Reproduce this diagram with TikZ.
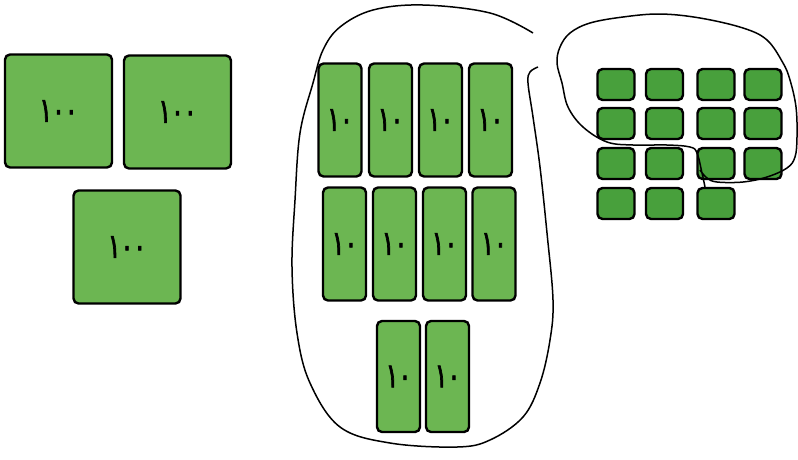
\documentclass[tikz,border=0pt]{standalone}
\usepackage{fontspec}
\newfontfamily\arabicfont[Script=Arabic,FakeStretch=0.7,FakeBold=2]{DejaVu Sans}
\definecolor{blockgreen}{RGB}{108,182,82}
\definecolor{unitgreen}{RGB}{72,160,60}
\tikzset{
  block/.style={draw=black, line width=2.4pt, rounded corners=5pt, fill=blockgreen, inner sep=0pt, font=\arabicfont\fontsize{34}{34}\selectfont},
  hund/.style={block, minimum width=107pt, minimum height=113pt},
  rod/.style={block, minimum width=43pt, minimum height=113pt},
  unit/.style={draw=black, line width=2.4pt, rounded corners=5pt, fill=unitgreen, inner sep=0pt, minimum width=37pt, minimum height=31pt},
  loop/.style={draw=black, line width=1.5pt}
}
\begin{document}
\begin{tikzpicture}[x=1pt,y=-1pt]
\useasboundingbox[fill=white] (0,0) rectangle (798,459);
% hundreds
\node[hund] (h1) at (58.5,111) {١٠٠};
\node[hund] (h2) at (177.5,112) {١٠٠};
\node[hund] (h3) at (127,247) {١٠٠};
% tens
\node[rod] (t1) at (340,120) {١٠};
\node[rod] (t2) at (390.5,120) {١٠};
\node[rod] (t3) at (440.5,120) {١٠};
\node[rod] (t4) at (490.5,120) {١٠};
\node[rod] (t5) at (344.5,244) {١٠};
\node[rod] (t6) at (394.5,244) {١٠};
\node[rod] (t7) at (444.5,244) {١٠};
\node[rod] (t8) at (494,244) {١٠};
\node[rod, minimum height=111pt] (t9) at (398.5,376.5) {١٠};
\node[rod, minimum height=111pt] (t10) at (447.5,376.5) {١٠};
% units
\foreach \r/\y in {1/84.5,2/123.5,3/163.5}{
  \foreach \c/\x in {1/616,2/664.5,3/716,4/763}{
    \node[unit] (u\r\c) at (\x,\y) {};
  }
}
\foreach \c/\x in {1/616,2/664.5,3/716}{
  \node[unit] (u4\c) at (\x,203.5) {};
}
% loop around tens
\draw[loop] plot[smooth, tension=0.6] coordinates {
 (533,33) (490,13) (423,5) (373,10) (340,27) (323,50) (313,83) (300,133)
 (295,200) (292,267) (297,333) (310,383) (340,427) (390,443) (457,447)
 (490,440) (523,417) (540,383) (550,340) (553,300) (547,233) (540,167)
 (533,117) (528,83) (530,72) (538,67)};
% loop around units
\draw[loop] plot[smooth, tension=0.6] coordinates {
 (705,187) (702,173) (697,153) (690,147) (667,145) (633,145) (607,142)
 (583,127) (568,107) (562,83) (557,63) (560,47) (570,33) (590,23) (623,17)
 (660,14) (700,18) (743,28) (767,40) (783,63) (790,80) (796,107) (797,137)
 (795,157) (787,168) (767,177) (743,182) (717,182) (707,178) (700,170)};
\end{tikzpicture}
\end{document}
